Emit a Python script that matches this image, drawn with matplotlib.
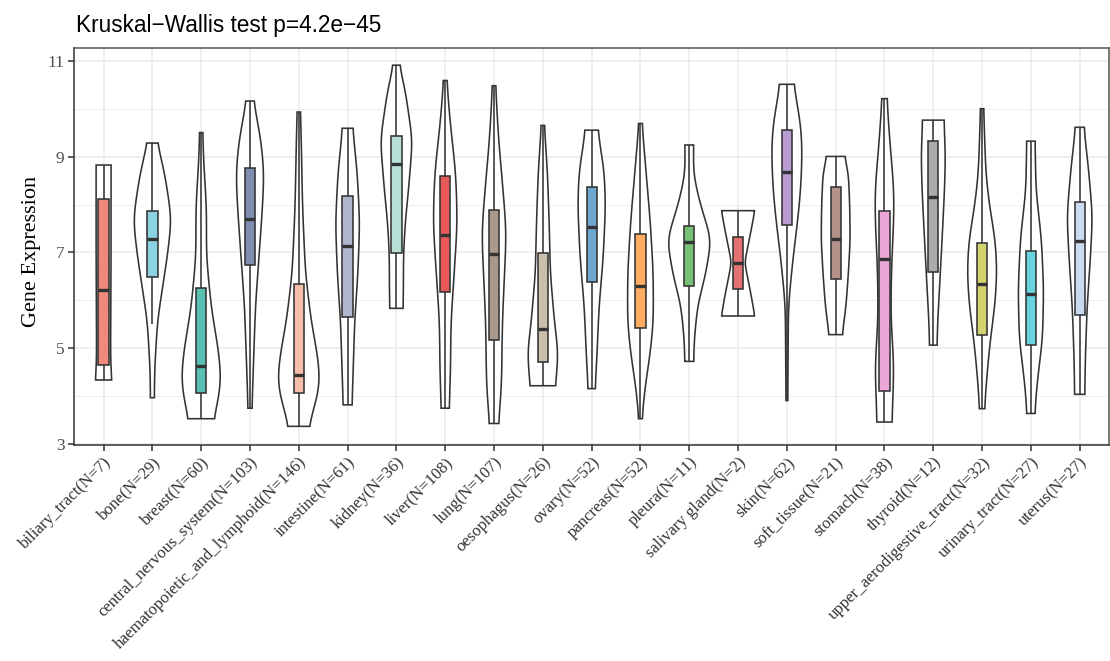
import numpy as np
import matplotlib
matplotlib.use("Agg")
import matplotlib.pyplot as plt
from matplotlib.patches import Rectangle, Polygon
from matplotlib.colors import to_rgba

# ---- data -------------------------------------------------------------
tissues = ["biliary_tract", "bone", "breast", "central_nervous_system",
           "haematopoietic_and_lymphoid", "intestine", "kidney", "liver",
           "lung", "oesophagus", "ovary", "pancreas", "pleura",
           "salivary gland", "skin", "soft_tissue", "stomach", "thyroid",
           "upper_aerodigestive_tract", "urinary_tract", "uterus"]
n_samples = [7, 29, 60, 103, 146, 61, 36, 108, 107, 26, 52, 52, 11, 2,
             62, 21, 38, 12, 32, 27, 27]

# box statistics
q1 = [4.64, 6.48, 4.06, 6.73, 4.06, 5.64, 6.99, 6.18, 5.17, 4.70, 6.39,
      5.42, 6.30, 6.23, 7.58, 6.45, 4.10, 6.59, 5.27, 5.06, 5.70]
median = [6.21, 7.29, 4.62, 7.71, 4.44, 7.125, 8.86, 7.375, 6.96, 5.40, 7.53,
          6.29, 7.22, 6.78, 8.68, 7.29, 6.87, 8.17, 6.35, 6.14, 7.24]
q3 = [8.12, 7.875, 6.26, 8.76, 6.33, 8.19, 9.43, 8.60, 7.88, 6.99, 8.36,
      7.39, 7.55, 7.32, 9.56, 8.375, 7.875, 9.33, 7.19, 7.04, 8.05]
whisker_lo = [4.33, 5.51, 3.52, 3.74, 3.36, 3.81, 5.83, 3.74, 3.42, 4.21, 4.15,
              3.52, 4.72, 5.67, 3.90, 5.28, 3.45, 5.06, 3.73, 3.63, 4.03]
whisker_hi = [8.83, 9.29, 9.51, 10.17, 9.94, 9.60, 10.92, 10.60, 10.49, 9.66,
              9.56, 9.70, 9.25, 7.875, 10.52, 9.01, 10.22, 9.77, 10.01, 9.33,
              9.62]

# violin density profiles: expression levels and relative density there
density_levels = [
    [4.33, 4.6, 5.0, 6.0, 7.0, 8.0, 8.83],
    [3.96, 4.5, 4.92, 5.55, 6.17, 6.92, 7.69, 8.52, 9.0, 9.29],
    [3.52, 3.8, 4.29, 4.84, 5.88, 6.92, 7.96, 8.92, 9.51],
    [3.74, 4.15, 4.84, 5.88, 6.92, 7.96, 8.67, 9.35, 9.84, 10.17],
    [3.36, 3.73, 4.22, 4.84, 5.54, 6.58, 7.96, 9.6, 9.94],
    [3.81, 4.49, 5.54, 6.58, 7.62, 8.66, 9.6],
    [5.83, 6.23, 6.92, 7.62, 8.31, 9.35, 10.4, 10.92],
    [3.74, 4.49, 5.54, 6.58, 7.62, 8.66, 9.7, 10.6],
    [3.42, 3.6, 4.15, 4.84, 5.54, 6.58, 7.41, 8.31, 9.35, 10.49],
    [4.21, 4.49, 4.91, 5.54, 6.58, 7.62, 8.66, 9.66],
    [4.15, 4.84, 5.88, 6.92, 7.96, 8.66, 9.56],
    [3.52, 4.15, 4.84, 5.54, 6.58, 7.62, 8.66, 9.70],
    [4.72, 5.19, 5.88, 6.58, 7.27, 8.1, 8.66, 9.25],
    [5.67, 6.09, 6.79, 7.48, 7.875],
    [3.90, 5.88, 6.23, 6.92, 7.62, 8.31, 9.15, 9.7, 10.52],
    [5.28, 5.88, 6.58, 7.27, 7.96, 8.66, 9.01],
    [3.45, 3.94, 4.63, 5.54, 6.23, 6.92, 7.62, 8.31, 9.35, 10.22],
    [5.06, 5.54, 6.23, 7.27, 8.31, 9.0, 9.77],
    [3.73, 4.49, 5.19, 5.88, 6.58, 7.27, 7.96, 8.66, 10.01],
    [3.63, 3.94, 4.49, 5.19, 6.23, 7.27, 8.31, 9.33],
    [4.03, 4.84, 5.88, 6.92, 7.76, 8.66, 9.62],
]
density_values = [
    [0.38, 0.33, 0.32, 0.33, 0.34, 0.34, 0.34],
    [0.09, 0.10, 0.15, 0.23, 0.43, 0.68, 0.87, 0.61, 0.39, 0.21],
    [0.55, 0.73, 0.91, 0.82, 0.45, 0.24, 0.24, 0.11, 0.07],
    [0.09, 0.12, 0.17, 0.25, 0.41, 0.57, 0.64, 0.50, 0.30, 0.15],
    [0.43, 0.68, 0.99, 0.86, 0.57, 0.30, 0.17, 0.10, 0.07],
    [0.20, 0.25, 0.32, 0.47, 0.55, 0.44, 0.23],
    [0.30, 0.32, 0.32, 0.40, 0.55, 0.73, 0.40, 0.13],
    [0.18, 0.24, 0.26, 0.41, 0.55, 0.48, 0.23, 0.07],
    [0.20, 0.23, 0.34, 0.36, 0.38, 0.48, 0.56, 0.41, 0.21, 0.07],
    [0.56, 0.64, 0.70, 0.53, 0.34, 0.29, 0.21, 0.07],
    [0.16, 0.24, 0.34, 0.53, 0.63, 0.58, 0.28],
    [0.07, 0.20, 0.43, 0.59, 0.58, 0.45, 0.26, 0.07],
    [0.20, 0.23, 0.38, 0.76, 1.00, 0.45, 0.19, 0.20],
    [0.76, 0.60, 0.30, 0.60, 0.76],
    [0.04, 0.07, 0.14, 0.29, 0.48, 0.63, 0.70, 0.63, 0.30],
    [0.30, 0.47, 0.58, 0.66, 0.64, 0.58, 0.40],
    [0.34, 0.38, 0.43, 0.30, 0.30, 0.34, 0.42, 0.43, 0.24, 0.11],
    [0.17, 0.20, 0.28, 0.40, 0.51, 0.55, 0.49],
    [0.11, 0.23, 0.38, 0.58, 0.68, 0.60, 0.34, 0.17, 0.07],
    [0.18, 0.22, 0.34, 0.53, 0.58, 0.48, 0.23, 0.19],
    [0.23, 0.26, 0.34, 0.49, 0.58, 0.42, 0.19],
]

fill_colors = ["#E64B35", "#4DBBD5", "#00A087", "#3C5488", "#F39B7F",
               "#8491B4", "#91D1C2", "#DC0000", "#7E6148", "#B09C85",
               "#1F77B4", "#FF7F0E", "#2CA02C", "#D62728", "#9467BD",
               "#8C564B", "#E377C2", "#7F7F7F", "#BCBD22", "#17BECF",
               "#AEC7E8"]

title = "Kruskal\u2212Wallis test p=4.2e\u221245"
y_label = "Gene Expression"

# ---- styling ----------------------------------------------------------
INK = "#333333"
VIOLIN_HALF = 0.45     # half-width of a violin at relative density 1
BOX_HALF = 0.105
SERIF = ["Liberation Serif", "DejaVu Serif"]
SANS = ["Liberation Sans", "DejaVu Sans"]


def violin_outline(levels, dens, steps=200):
    """Smooth outline of one violin from its density profile."""
    levels = np.asarray(levels, float)
    dens = np.asarray(dens, float)
    grid = np.linspace(levels[0], levels[-1], steps)
    w = np.interp(grid, levels, dens)
    k = 9
    kern = np.exp(-0.5 * (np.arange(-2 * k, 2 * k + 1) / k) ** 2)
    kern /= kern.sum()
    padded = np.concatenate([np.full(2 * k, w[0]), w, np.full(2 * k, w[-1])])
    w = np.convolve(padded, kern, mode="same")[2 * k:-2 * k]
    return grid, w


fig = plt.figure(figsize=(11.10, 6.61), dpi=100)
ax = fig.add_axes([74.3 / 1110, 1 - 444.5 / 661,
                   (1109 - 74.3) / 1110, (444.5 - 48) / 661])

positions = np.arange(len(tissues))

for i, pos in enumerate(positions):
    grid, w = violin_outline(density_levels[i], density_values[i])
    half = VIOLIN_HALF * w
    xs = np.concatenate([pos - half, (pos + half)[::-1]])
    ys = np.concatenate([grid, grid[::-1]])
    ax.add_patch(Polygon(np.column_stack([xs, ys]), closed=True,
                         facecolor="white", edgecolor=INK, lw=1.15, zorder=2))

    # whiskers
    ax.plot([pos, pos], [whisker_lo[i], q1[i]], color=INK, lw=1.15,
            solid_capstyle="butt", zorder=3)
    ax.plot([pos, pos], [q3[i], whisker_hi[i]], color=INK, lw=1.15,
            solid_capstyle="butt", zorder=3)
    # box
    ax.add_patch(Rectangle((pos - BOX_HALF, q1[i]), 2 * BOX_HALF, q3[i] - q1[i],
                           facecolor=to_rgba(fill_colors[i], 0.65),
                           edgecolor=INK, lw=1.15, zorder=4))
    ax.plot([pos - BOX_HALF, pos + BOX_HALF], [median[i], median[i]],
            color=INK, lw=2.4, solid_capstyle="butt", zorder=5)

ax.set_xlim(-0.6, len(tissues) - 0.4)
ax.set_ylim(2.98, 11.28)

ax.set_yticks([3, 5, 7, 9, 11])
ax.set_yticks([4, 6, 8, 10], minor=True)
ax.set_xticks(positions)
ax.set_xticklabels([f"{t}(N={n})" for t, n in zip(tissues, n_samples)],
                   rotation=45, ha="right", va="top", rotation_mode="anchor",
                   family=SERIF, fontsize=12, color="#333333")
for lab in ax.get_yticklabels():
    lab.set_family(SERIF)
    lab.set_fontsize(12.5)
    lab.set_color("#4d4d4d")

ax.grid(True, which="major", color="#EBEBEB", lw=1.1, zorder=0)
ax.grid(True, which="minor", axis="y", color="#EBEBEB", lw=0.6, zorder=0)
ax.set_axisbelow(True)
ax.tick_params(axis="both", which="major", length=4, width=1.1, color=INK,
               pad=3)
ax.tick_params(axis="y", which="minor", length=0)
for sp in ax.spines.values():
    sp.set_color("#555555")
    sp.set_linewidth(1.1)
ax.spines["left"].set_color(INK)
ax.spines["bottom"].set_color(INK)

fig.text(76 / 1110, 1 - 31.7 / 661, title, family=SANS, fontsize=16.3,
         ha="left", va="baseline", color="black")
fig.text(31.7 / 1110, 1 - 251 / 661, y_label, family=SERIF, fontsize=16,
         rotation=90, ha="center", va="center", color="black")

fig.savefig("out.png", dpi=100)
